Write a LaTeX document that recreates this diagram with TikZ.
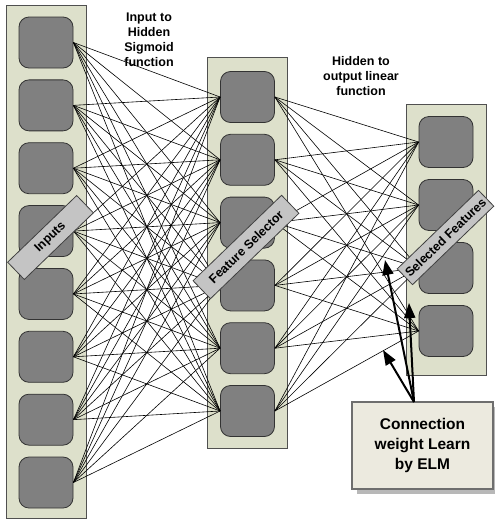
\documentclass[tikz,border=0pt]{standalone}
\usepackage{fontspec}
\setmainfont{Liberation Sans}
\usetikzlibrary{arrows.meta,shadows}
\definecolor{colfill}{HTML}{DDE0CB}
\definecolor{colline}{HTML}{505050}
\definecolor{nodefill}{HTML}{808080}
\definecolor{labfill}{HTML}{C4C4C4}
\definecolor{callfill}{HTML}{ECEADF}
\definecolor{callline}{HTML}{6E6E6E}
\begin{document}
\begin{tikzpicture}[x=1pt,y=-1pt,
  layer/.style={draw=colline,fill=colfill,line width=0.9pt,minimum width=80pt,inner sep=0pt},
  neuron/.style={draw=black!80,fill=nodefill,line width=0.8pt,rounded corners=10pt,minimum width=54pt,minimum height=51pt,inner sep=0pt},
  conn/.style={line width=0.6pt,black},
  tag/.style={draw=black!75,fill=labfill,line width=0.8pt,rotate=44,inner sep=0pt,font=\fontsize{12.5}{15}\selectfont\bfseries},
  note/.style={align=center,font=\fontsize{12.5}{15}\selectfont\bfseries,inner sep=0pt},
  callout/.style={draw=callline,fill=callfill,line width=1.8pt,align=center,minimum width=141pt,minimum height=87pt,inner sep=0pt,
    font=\fontsize{15.5}{20}\selectfont\bfseries,
    drop shadow={shadow xshift=5pt,shadow yshift=-5pt,fill=black!28,opacity=1}},
  pointer/.style={line width=2pt,-{Triangle[length=15pt,width=11pt]}}
]
\useasboundingbox (0,0) rectangle (495,520);
% layers
\node[layer,minimum height=513pt] (incol) at (46,261.5) {};
\node[layer,minimum height=391pt] (hidcol) at (247,252.5) {};
\node[layer,minimum height=271pt] (outcol) at (446.5,239.5) {};
% neurons
\foreach \i in {1,...,8} \node[neuron] (in\i) at (46,{42.5+62.86*(\i-1)}) {};
\foreach \j in {1,...,6} \node[neuron] (hid\j) at (247.5,{97+62.8*(\j-1)}) {};
\foreach \k in {1,...,4} \node[neuron] (out\k) at (446,{142+63*(\k-1)}) {};
% connections
\foreach \i in {1,...,8} \foreach \j in {1,...,6} \draw[conn] (in\i.east) -- (hid\j.west);
\foreach \j in {1,...,6} \foreach \k in {1,...,4} \draw[conn] (hid\j.east) -- (out\k.west);
% rotated tags
\node[tag,minimum width=96pt,minimum height=24pt] (tagin) at (50.5,237.5) {Inputs};
\node[tag,minimum width=123pt,minimum height=25pt] (taghid) at (246,247) {Feature Selector};
\node[tag,minimum width=113pt,minimum height=22pt] (tagout) at (445.5,237.5) {Selected Features};
% notes
\node[note] (n1) at (149,40) {Input to\\Hidden\\Sigmoid\\function};
\node[note] (n2) at (361,76) {Hidden to\\output linear\\function};
% callout
\node[callout] (call) at (422.5,445.5) {Connection\\weight Learn\\by ELM};
\coordinate (base) at (414,402);
\coordinate (tip1) at (385,260);
\coordinate (tip2) at (409,303);
\coordinate (tip3) at (383,350);
\draw[pointer] (base) -- (tip1);
\draw[pointer] (base) -- (tip2);
\draw[pointer] (base) -- (tip3);
\end{tikzpicture}
\end{document}
